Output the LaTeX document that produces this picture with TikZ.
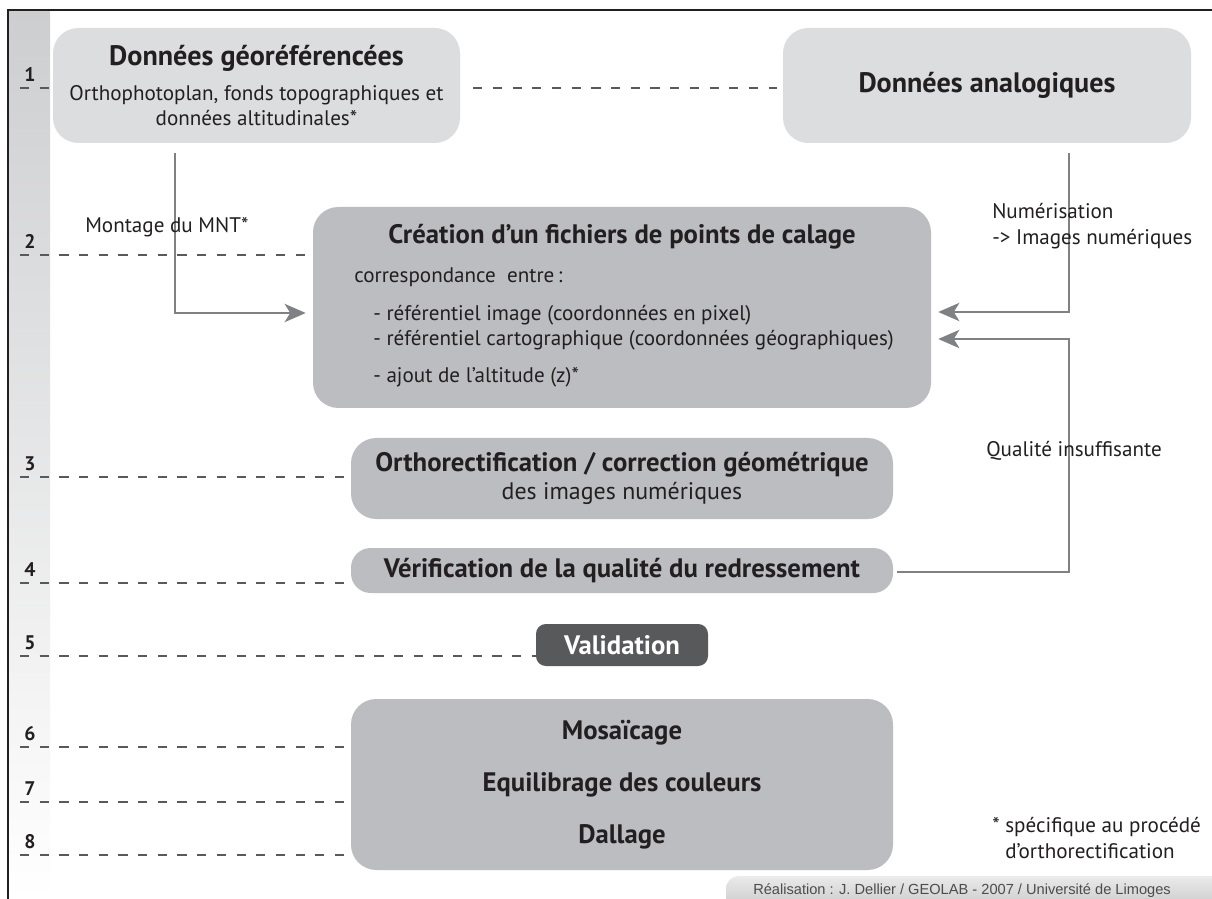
\documentclass[tikz,border=0pt]{standalone}
\usepackage{fontspec}
\setmainfont{PT Sans}
\newfontfamily\creditfont{Liberation Sans}
\usetikzlibrary{arrows.meta,positioning,calc}

\definecolor{boxlight}{HTML}{DCDDDE}
\definecolor{boxmid}{HTML}{BCBDC0}
\definecolor{boxdark}{HTML}{58595B}
\definecolor{flowgray}{HTML}{808184}
\definecolor{dashgray}{HTML}{58595B}
\definecolor{ink}{HTML}{231F20}
\definecolor{bartop}{HTML}{CDCED0}

\newcommand{\pxu}{0.025cm}
\newcommand{\bigtitle}{\fontsize{20}{23}\selectfont\bfseries}
\newcommand{\steptitle}{\fontsize{19}{21}\selectfont\bfseries}
\newcommand{\bodytext}{\fontsize{15}{17.8}\selectfont}

\begin{document}
\begin{tikzpicture}
  [x=0.025cm, y=-0.025cm, text=ink, font=\bodytext,
   >={Stealth[length=15pt,width=13pt,inset=4pt]},
   stepbox/.style={rounded corners=18pt, fill=boxmid, inner sep=0pt, align=center},
   databox/.style={stepbox, fill=boxlight},
   flow/.style={draw=flowgray, line width=1.4pt, ->},
   guide/.style={draw=dashgray, line width=1.6pt, dash pattern=on 6.5pt off 7.5pt},
   num/.style={font=\fontsize{14}{16}\selectfont\bfseries, inner sep=0pt, anchor=south west},
   note/.style={inner sep=0pt, anchor=west, align=left}]

\useasboundingbox (0,0) rectangle (1212,899);
\fill[white] (0,0) rectangle (1212,899);
\shade[top color=bartop, bottom color=white] (9,11) rectangle (50,899);
\draw[line width=1.2pt, draw=ink] (1212,10) -- (8,10) -- (8,899);

% etapes
\node[databox, minimum width=407*\pxu, minimum height=115*\pxu] (geo) at (256.5,85.5)
  {{\bigtitle Données géoréférencées}\\[7pt]
   Orthophotoplan, fonds topographiques et\\ données altitudinales*};
\node[databox, minimum width=408*\pxu, minimum height=115*\pxu, font=\bigtitle] (ana) at (987,85.5)
  {Données analogiques};
\node[stepbox, minimum width=618*\pxu, minimum height=201*\pxu] (calage) at (622,307.5) {};
\node[stepbox, minimum width=542*\pxu, minimum height=81*\pxu] (ortho) at (622,478.5)
  {{\steptitle Orthorectification / correction géométrique}\\[2pt]
   {\fontsize{17}{21}\selectfont des images numériques}};
\node[stepbox, rounded corners=14pt, minimum width=542*\pxu, minimum height=45*\pxu, font=\steptitle] (verif) at (622,570.5)
  {Vérification de la qualité du redressement};
\node[stepbox, rounded corners=7pt, fill=boxdark, text=white, minimum width=172*\pxu, minimum height=42*\pxu, font=\steptitle] (valid) at (622,645)
  {Validation};
\node[stepbox, minimum width=542*\pxu, minimum height=171*\pxu, font=\steptitle] (mosaic) at (622,784.5)
  {Mosaïcage\\[16pt] Equilibrage des couleurs\\[16pt] Dallage};

% texte du calage
\node[font=\steptitle] (calagetitle) at (622,237) {Création d’un fichiers de points de calage};
\node[note] (corr) at (354,277) {correspondance~~entre\,:};
\node[note] (refimg) at (373,315) {- référentiel image (coordonnées en pixel)};
\node[note] (refcarto) at (373,340) {- référentiel cartographique (coordonnées géographiques)};
\node[note] (ajout) at (373,377) {- ajout de l’altitude (z)*};

% niveaux
\node[num] (n1) at (24,82) {1};
\node[num] (n2) at (24,249) {2};
\node[num] (n3) at (24,471) {3};
\node[num] (n4) at (24,577) {4};
\node[num] (n5) at (24,650) {5};
\node[num] (n6) at (24,741) {6};
\node[num] (n7) at (24,796) {7};
\node[num] (n8) at (24,849) {8};
\coordinate (g1) at (20,88);
\coordinate (g2) at (20,255);
\coordinate (g3) at (20,477);
\coordinate (g4) at (20,583);
\coordinate (g5) at (20,656);
\coordinate (g6) at (20,747);
\coordinate (g7) at (20,802);
\coordinate (g8) at (20,855);
\draw[guide] (g1) -- (g1 -| geo.west);
\draw[guide] (g2) -- (g2 -| calage.west);
\draw[guide] (g3) -- (g3 -| ortho.west);
\draw[guide] (g4) -- (g4 -| verif.west);
\draw[guide] (g5) -- (g5 -| valid.west);
\draw[guide] (g6) -- (g6 -| mosaic.west);
\draw[guide] (g7) -- (g7 -| mosaic.west);
\draw[guide] (g8) -- (g8 -| mosaic.west);
\draw[guide] ([shift={(13,2.5)}]geo.east) -- ([shift={(-6,2.5)}]geo.east -| ana.west);

% fleches
\coordinate (back) at ([shift={(138,31.5)}]calage.east);
\draw[flow] ([shift={(-81.5,10)}]geo.south) |- ([shift={(-7,5.5)}]calage.west);
\draw[flow] ([shift={(82,10)}]ana.south) |- ([shift={(7,4.5)}]calage.east);
\draw[flow] ([shift={(4,1.5)}]verif.east) -| (back) -- ([shift={(7,31.5)}]calage.east);

\node[note] (mntlabel) at (85,227) {Montage du MNT*};
\node[note, font=\fontsize{15}{18.5}\selectfont] (numlabel) at (992,226) {Numérisation\\-> Images numériques};
\node[note] (quallabel) at (986,451) {Qualité insuffisante};
\node[note, font=\fontsize{15}{18.5}\selectfont] (footnote) at (992,838) {* spécifique au procédé\\\phantom{*\ }d’orthorectification};

\shade[top color=black!8, bottom color=black!30, rounded corners=9pt] (726,876) rectangle (1240,930);
\node[note, font=\creditfont\fontsize{10.4}{12}\selectfont, text=black!70] (credit) at (753,891)
  {Réalisation : J. Dellier / GEOLAB - 2007 / Université de Limoges};
\end{tikzpicture}
\end{document}
